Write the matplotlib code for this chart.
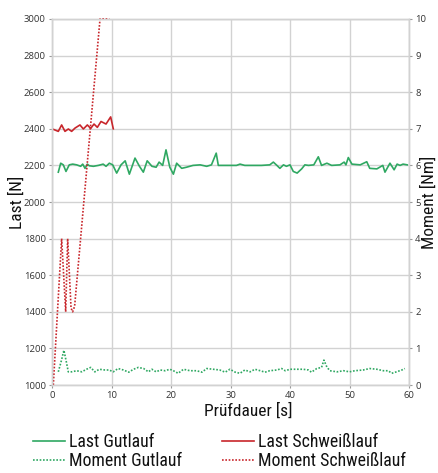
import matplotlib
matplotlib.use("Agg")
import matplotlib.pyplot as plt

# ---- data ----
t_last_gut = [1.06, 1.46, 1.9, 2.35, 2.9, 3.48, 4.15, 4.82, 5.16, 5.55,
              5.94, 6.27, 6.95, 7.79, 8.6, 9.08, 9.64, 10.2, 10.87, 11.6,
              12.3, 13.0, 13.95, 14.7, 15.35, 16.0, 16.8, 17.5, 18.0, 18.6,
              19.16, 19.8, 20.4, 20.95, 21.8, 22.6, 23.7, 24.9, 26.0, 26.8,
              27.6, 27.95, 28.8, 29.9, 31.0, 31.6, 32.4, 33.8, 35.2, 36.6,
              37.2, 37.8, 38.3, 38.9, 39.4, 40.0, 40.55, 41.2, 41.96, 42.5,
              43.1, 44.0, 44.76, 45.3, 46.2, 47.0, 48.4, 49.1, 49.4, 49.8,
              50.4, 51.8, 52.9, 53.4, 54.6, 55.6, 55.96, 56.8, 57.5, 58.0,
              58.5, 59.0, 59.7]
last_gut = [2163, 2212, 2203, 2167, 2203, 2207, 2203, 2195, 2207, 2184,
            2207, 2198, 2195, 2200, 2207, 2195, 2212, 2203, 2158, 2203,
            2225, 2152, 2240, 2195, 2163, 2225, 2195, 2190, 2218, 2200,
            2285, 2190, 2152, 2212, 2184, 2190, 2200, 2203, 2195, 2203,
            2267, 2200, 2200, 2200, 2200, 2207, 2200, 2200, 2200, 2203,
            2218, 2200, 2184, 2203, 2195, 2203, 2167, 2158, 2181, 2203,
            2200, 2203, 2247, 2200, 2212, 2200, 2203, 2218, 2203, 2243,
            2207, 2203, 2220, 2184, 2181, 2200, 2163, 2212, 2176, 2207,
            2200, 2207, 2203]

t_mom_gut = [1.06, 1.6, 2.0, 2.35, 2.74, 3.3, 4.15, 5.0, 5.8, 6.5,
             7.2, 7.95, 8.9, 9.6, 10.3, 11.1, 12.0, 12.9, 13.7, 14.5,
             15.4, 16.2, 16.8, 17.5, 18.2, 19.0, 19.8, 20.4, 21.2, 22.1,
             23.2, 24.3, 25.2, 26.0, 27.1, 28.2, 29.1, 29.9, 30.8, 31.6,
             32.4, 33.3, 34.1, 35.0, 35.8, 36.6, 37.8, 38.6, 39.2, 40.0,
             41.1, 42.2, 43.1, 43.6, 44.5, 45.3, 45.7, 46.2, 46.7, 47.9,
             49.0, 50.0, 50.9, 52.3, 53.4, 54.6, 55.7, 56.5, 57.1, 57.9,
             58.8, 59.3]
mom_gut = [0.36, 0.68, 0.95, 0.68, 0.36, 0.36, 0.39, 0.36, 0.43, 0.48,
           0.36, 0.43, 0.41, 0.41, 0.36, 0.45, 0.41, 0.35, 0.43, 0.48,
           0.45, 0.36, 0.43, 0.36, 0.41, 0.39, 0.43, 0.39, 0.32, 0.43,
           0.39, 0.39, 0.35, 0.45, 0.43, 0.41, 0.35, 0.43, 0.35, 0.32,
           0.41, 0.36, 0.43, 0.39, 0.35, 0.39, 0.41, 0.45, 0.39, 0.43,
           0.43, 0.43, 0.41, 0.35, 0.45, 0.48, 0.68, 0.49, 0.39, 0.36,
           0.39, 0.36, 0.39, 0.41, 0.45, 0.43, 0.39, 0.39, 0.32, 0.36,
           0.41, 0.45]

t_last_schw = [0.0, 1.06, 1.62, 2.18, 2.75, 3.3, 3.87, 4.7, 5.27, 5.94,
               6.5, 7.06, 7.62, 8.24, 9.08, 9.86, 10.3]
last_schw = [2400, 2386, 2421, 2386, 2399, 2386, 2404, 2421, 2399, 2421,
             2402, 2426, 2408, 2440, 2426, 2465, 2400]

t_mom_schw = [0.22, 1.62, 2.3, 2.63, 3.2, 3.47, 3.8, 8.07, 9.64]
mom_schw = [0.0, 4.0, 2.0, 4.0, 2.1, 2.0, 2.15, 10.0, 10.0]

x_ticks = [0, 10, 20, 30, 40, 50, 60]
y_ticks = [1000, 1200, 1400, 1600, 1800, 2000, 2200, 2400, 2600, 2800, 3000]
y2_ticks = [0, 1, 2, 3, 4, 5, 6, 7, 8, 9, 10]

GREEN = "#2fa862"
RED = "#c8262b"
GRID = "#d2d2d2"
TICKC = "#333333"
tick_font = ["Open Sans", "DejaVu Sans"]
lab_font = ["Roboto Condensed", "DejaVu Sans"]

fig = plt.figure(figsize=(4.38, 4.73), dpi=100)
ax = fig.add_axes([52 / 438, 1 - 385 / 473, 357 / 438, 366 / 473])
ax2 = ax.twinx()

ax.set_xlim(0, 60)
ax.set_ylim(1000, 3000)
ax2.set_ylim(0, 10)
ax.set_xticks(x_ticks)
ax.set_yticks(y_ticks)
ax2.set_yticks(y2_ticks)
ax.grid(True, color=GRID, lw=1.0)
ax.set_axisbelow(True)

for a in (ax, ax2):
    for s in a.spines.values():
        s.set_color(GRID)
        s.set_linewidth(1.0)
    a.tick_params(length=2.5, width=0.8, color="#999999", pad=2,
                  labelsize=6.8, labelcolor=TICKC)
    for lab in a.get_xticklabels() + a.get_yticklabels():
        lab.set_fontfamily(tick_font)

l1, = ax.plot(t_last_gut, last_gut, color=GREEN, lw=1.2, label="Last Gutlauf")
l3, = ax.plot(t_last_schw, last_schw, color=RED, lw=1.2, label="Last Schweißlauf")
l2, = ax2.plot(t_mom_gut, mom_gut, color=GREEN, lw=1.2, ls=(0, (1, 1)),
               label="Moment Gutlauf")
l4, = ax2.plot(t_mom_schw, mom_schw, color=RED, lw=1.2, ls=(0, (1, 1)),
               label="Moment Schweißlauf", clip_on=False)

fig.text(17 / 438, 1 - 202 / 473, "Last [N]", rotation=90, ha="center",
         va="center", fontsize=12.5, family=lab_font, color="#111111")
fig.text(429 / 438, 1 - 202 / 473, "Moment [Nm]", rotation=90, ha="center",
         va="center", fontsize=12.5, family=lab_font, color="#111111")
fig.text(248 / 438, 1 - 411 / 473, "Prüfdauer [s]", ha="center",
         va="center", fontsize=12.5, family=lab_font, color="#111111")

leg = fig.legend(handles=[l1, l2, l3, l4], ncol=2, loc="upper left",
                 bbox_to_anchor=(33 / 438, 1 - 433 / 473), frameon=False,
                 prop={"family": lab_font, "size": 12.8},
                 handlelength=1.8, handletextpad=0.2, columnspacing=2.3,
                 labelspacing=0.08, borderpad=0.0, borderaxespad=0.0)
for txt in leg.get_texts():
    txt.set_color("#111111")

fig.savefig("out.png", dpi=100)
